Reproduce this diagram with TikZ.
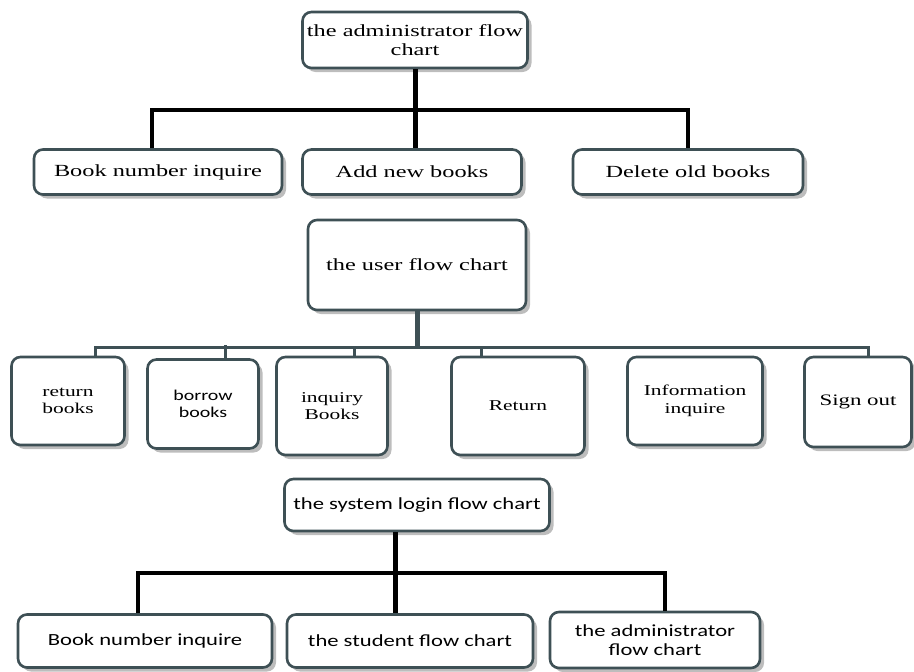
\documentclass[tikz,border=0pt]{standalone}
\usepackage{fontspec}
\setmainfont[FakeStretch=1.43]{Liberation Serif}
\newfontfamily\calibri[FakeStretch=1.33]{Carlito}
\usetikzlibrary{positioning, shadows}
\definecolor{slate}{HTML}{3E5055}
\definecolor{shadowgray}{HTML}{BDBDBD}
\tikzset{
	box/.append style={
		draw=slate,
		line width=2.6pt,
		rounded corners=9pt,
		fill=white,
		align=center,
		inner sep=1pt,
		drop shadow={shadow xshift=4pt, shadow yshift=-4pt, fill=shadowgray, opacity=1},
	},
	wide/.append style={
		box,
		font={\fontsize{17}{19.5}\selectfont},
	},
	tall/.append style={
		box,
		font={\fontsize{15}{16.5}\selectfont},
	},
	login/.append style={
		box,
		font={\calibri\fontsize{17}{19}\selectfont},
	},
	trunk/.append style={
		line width=5pt,
	},
	branch/.append style={
		line width=3.5pt,
	},
	userline/.append style={
		draw=slate,
		line width=3pt,
	},
}

\begin{document}
\begin{tikzpicture}[x=1pt, y=-1pt]
\useasboundingbox (0,0) rectangle (914,672);

% administrator
\node(adm)[wide, minimum width=225, minimum height=56] at (415,40) {the administrator flow\\chart};
\node(bni1)[wide, minimum width=248, minimum height=45] at (158,172) {Book number inquire};
\node(add)[wide, minimum width=219, minimum height=45] at (412,172) {Add new books};
\node(del)[wide, minimum width=230, minimum height=45] at (688,172) {Delete old books};

\coordinate(admbus) at (415,110);
\draw[branch] ([xshift=-6]bni1.north) |- (admbus) -| (del.north);
\draw[trunk] (adm.south) -- (adm.south |- add.north);

% user
\node(user)[wide, minimum width=218, minimum height=90] at (417,265) {the user flow chart};
\node(ret)[tall, minimum width=113, minimum height=88] at (68,401) {return\\books};
\node(bor)[tall, minimum width=111, minimum height=89, font={\calibri\fontsize{15}{16.5}\selectfont}] at (203,404) {borrow\\books};
\node(inq)[tall, minimum width=111, minimum height=98] at (332,406) {inquiry\\Books};
\node(rtn)[tall, minimum width=133, minimum height=98] at (518,406) {Return};
\node(info)[tall, minimum width=135, minimum height=88, font={\fontsize{15}{17.5}\selectfont}] at (695,401) {Information\\inquire};
\node(sign)[tall, minimum width=107, minimum height=90, font={\fontsize{16}{18}\selectfont}] at (858,402) {Sign out};

\coordinate(userbus) at (417,347);
\draw[userline] ([xshift=27]ret.north) |- (userbus) -| ([xshift=10]sign.north);
\draw[userline, line width=5pt] (user.south) -- (userbus);
\draw[userline] ([xshift=22]bor.north) -- ++(0,-13);
\draw[userline] ([xshift=22]inq.north) -- ++(0,-10);
\draw[userline] ([xshift=-37]rtn.north) -- ++(0,-10);

% login
\node(login)[login, minimum width=265, minimum height=52] at (417,505) {the system login flow chart};
\node(bni2)[login, minimum width=254, minimum height=53] at (145,641) {Book number inquire};
\node(stu)[login, minimum width=246, minimum height=53] at (410,641) {the student flow chart};
\node(adm2)[login, minimum width=210, minimum height=56] at (655,640) {the administrator\\flow chart};

\coordinate(loginbus) at (395,573);
\draw[branch] ([xshift=-7]bni2.north) |- (loginbus) -| ([xshift=10]adm2.north);
\draw[trunk] (login.south -| loginbus) -- (loginbus |- stu.north);

\end{tikzpicture}
\end{document}
